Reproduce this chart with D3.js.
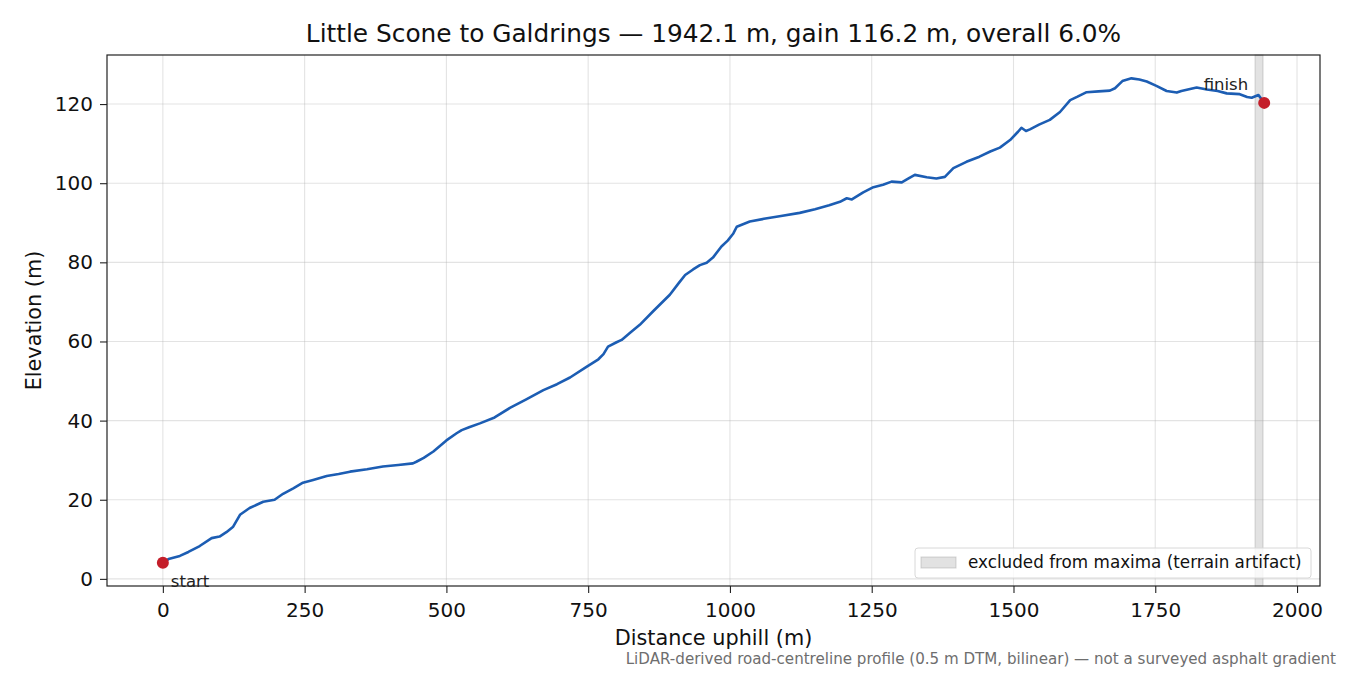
<!DOCTYPE html>
<html>
<head>
<meta charset="utf-8">
<script src="https://cdn.jsdelivr.net/npm/d3@7/dist/d3.min.js"></script>
<style>
  body { margin: 0; background: #fff; }
  text { font-family: "DejaVu Sans", sans-serif; }
</style>
</head>
<body>
<svg width="1350" height="675"></svg>
<script>
// profile: distance uphill (m), elevation (m)
const distance = [0, 10, 30, 45, 65, 86, 100, 112, 124, 136, 153, 177, 197, 212, 230, 247, 265, 289, 310, 330,
  360, 388, 415, 441, 447, 460, 477, 500, 518, 527, 540, 559, 585, 612, 640, 671, 695, 718, 747, 768,
  777, 785, 800, 809, 825, 841, 865, 894, 910, 921, 935, 947, 959, 970, 985, 996, 1006, 1012, 1035, 1060,
  1090, 1123, 1150, 1175, 1194, 1206, 1215, 1235, 1253, 1270, 1285, 1303, 1315, 1326, 1347, 1364, 1379, 1394, 1417, 1440,
  1459, 1476, 1494, 1508, 1514, 1522, 1529, 1545, 1564, 1582, 1600, 1612, 1629, 1650, 1670, 1679, 1692, 1708, 1722, 1735,
  1752, 1770, 1788, 1796, 1823, 1841, 1860, 1876, 1899, 1912, 1920, 1932, 1942.1];
const elevation = [4.1, 5.0, 5.8, 6.8, 8.3, 10.3, 10.7, 11.8, 13.2, 16.2, 17.9, 19.5, 20.0, 21.5, 22.9, 24.3, 25.0, 26.0, 26.5, 27.1,
  27.7, 28.4, 28.8, 29.2, 29.6, 30.6, 32.2, 35.0, 36.8, 37.6, 38.3, 39.3, 40.8, 43.2, 45.3, 47.7, 49.2, 50.9, 53.6, 55.5,
  56.8, 58.7, 59.8, 60.4, 62.3, 64.2, 67.7, 71.8, 74.8, 76.8, 78.2, 79.3, 79.9, 81.2, 84.0, 85.5, 87.3, 89.0, 90.3, 91.0,
  91.7, 92.5, 93.4, 94.4, 95.3, 96.2, 95.9, 97.7, 99.0, 99.6, 100.4, 100.2, 101.2, 102.1, 101.5, 101.2, 101.6, 103.8, 105.4, 106.7,
  108.0, 109.0, 110.9, 113.0, 114.0, 113.2, 113.6, 114.8, 116.0, 118.0, 121.0, 121.8, 123.0, 123.2, 123.4, 124.0, 125.8, 126.5, 126.2, 125.7,
  124.6, 123.3, 122.9, 123.3, 124.2, 123.7, 123.3, 122.7, 122.5, 121.8, 121.6, 122.3, 120.3];
const excluded = [1926, 1940];
const xTicks = [0, 250, 500, 750, 1000, 1250, 1500, 1750, 2000];
const yTicks = [0, 20, 40, 60, 80, 100, 120];

const data = distance.map((d, i) => ({ x: d, y: elevation[i] }));

const margin = { left: 107, right: 30, top: 55, bottom: 89 };
const svg = d3.select('svg');
const width = +svg.attr('width');
const height = +svg.attr('height');
const innerWidth = width - margin.left - margin.right;
const innerHeight = height - margin.top - margin.bottom;

const g = svg.append('g')
  .attr('transform', `translate(${margin.left}, ${margin.top})`);

const xScale = d3.scaleLinear().domain([-98.5, 2040.5]).range([0, innerWidth]);
const yScale = d3.scaleLinear().domain([-1.8, 132.4]).range([innerHeight, 0]);

// grid
g.append('g').selectAll('line').data(xTicks).enter().append('line')
  .attr('x1', d => xScale(d)).attr('x2', d => xScale(d))
  .attr('y1', 0).attr('y2', innerHeight)
  .attr('stroke', '#b0b0b0').attr('stroke-opacity', 0.35).attr('stroke-width', 1.1);
g.append('g').selectAll('line').data(yTicks).enter().append('line')
  .attr('y1', d => yScale(d)).attr('y2', d => yScale(d))
  .attr('x1', 0).attr('x2', innerWidth)
  .attr('stroke', '#b0b0b0').attr('stroke-opacity', 0.35).attr('stroke-width', 1.1);

// excluded span
g.append('rect')
  .attr('x', xScale(excluded[0]))
  .attr('width', xScale(excluded[1]) - xScale(excluded[0]))
  .attr('y', 0).attr('height', innerHeight)
  .attr('fill', '#a0a0a0').attr('fill-opacity', 0.3)
  .attr('stroke', '#a0a0a0').attr('stroke-opacity', 0.45).attr('stroke-width', 1);

// profile line
const line = d3.line().x(d => xScale(d.x)).y(d => yScale(d.y));
g.append('path').datum(data)
  .attr('d', line)
  .attr('fill', 'none')
  .attr('stroke', '#1c5db3')
  .attr('stroke-width', 2.6)
  .attr('stroke-linejoin', 'round');

// start / finish markers
const ends = [data[0], data[data.length - 1]];
g.selectAll('circle').data(ends).enter().append('circle')
  .attr('cx', d => xScale(d.x)).attr('cy', d => yScale(d.y))
  .attr('r', 6).attr('fill', '#c41e2a');

g.append('text').attr('x', xScale(ends[0].x) + 8).attr('y', yScale(ends[0].y) + 24)
  .attr('font-size', 16.5).attr('fill', '#222').text('start');
g.append('text').attr('x', xScale(ends[1].x) - 16).attr('y', yScale(ends[1].y) - 13)
  .attr('text-anchor', 'end')
  .attr('font-size', 16.5).attr('fill', '#222').text('finish');

// axes
const xAxis = d3.axisBottom(xScale).tickValues(xTicks).tickSize(7).tickPadding(8).tickFormat(d3.format('d'));
const yAxis = d3.axisLeft(yScale).tickValues(yTicks).tickSize(7).tickPadding(7);
const xAxisG = g.append('g').attr('transform', `translate(0, ${innerHeight})`).call(xAxis);
const yAxisG = g.append('g').call(yAxis);
[xAxisG, yAxisG].forEach(a => {
  a.select('.domain').remove();
  a.selectAll('.tick line').attr('stroke', '#222').attr('stroke-width', 1.1);
  a.selectAll('.tick text').attr('font-size', 20).attr('fill', '#111')
    .attr('font-family', '"DejaVu Sans", sans-serif');
});
xAxisG.selectAll('.tick text').attr('y', 31).attr('dy', 0);

// frame
g.append('rect').attr('width', innerWidth).attr('height', innerHeight)
  .attr('fill', 'none').attr('stroke', '#222').attr('stroke-width', 1.2);

// legend
const lg = g.append('g').attr('transform', `translate(${innerWidth - 405}, ${innerHeight - 38})`);
lg.append('rect').attr('width', 396).attr('height', 30).attr('rx', 3)
  .attr('fill', '#fff').attr('fill-opacity', 0.8).attr('stroke', '#d8d8d8');
lg.append('rect').attr('x', 6).attr('y', 9).attr('width', 35).attr('height', 11)
  .attr('fill', '#a0a0a0').attr('fill-opacity', 0.3).attr('stroke', '#a0a0a0').attr('stroke-opacity', 0.45);
lg.append('text').attr('x', 53).attr('y', 20).attr('font-size', 16.8).attr('fill', '#111')
  .text('excluded from maxima (terrain artifact)');

// titles
svg.append('text').attr('x', margin.left + innerWidth / 2).attr('y', 42)
  .attr('text-anchor', 'middle').attr('font-size', 24.8).attr('fill', '#111')
  .text('Little Scone to Galdrings — 1942.1 m, gain 116.2 m, overall 6.0%');
svg.append('text').attr('x', margin.left + innerWidth / 2).attr('y', 645)
  .attr('text-anchor', 'middle').attr('font-size', 20.8).attr('fill', '#111')
  .text('Distance uphill (m)');
svg.append('text')
  .attr('transform', `translate(41, ${margin.top + innerHeight / 2}) rotate(-90)`)
  .attr('text-anchor', 'middle').attr('font-size', 20.8).attr('fill', '#111')
  .text('Elevation (m)');
svg.append('text').attr('x', 1336).attr('y', 664)
  .attr('text-anchor', 'end').attr('font-size', 15.1).attr('fill', '#6e6e6e')
  .text('LiDAR-derived road-centreline profile (0.5 m DTM, bilinear) — not a surveyed asphalt gradient');
</script>
</body>
</html>
